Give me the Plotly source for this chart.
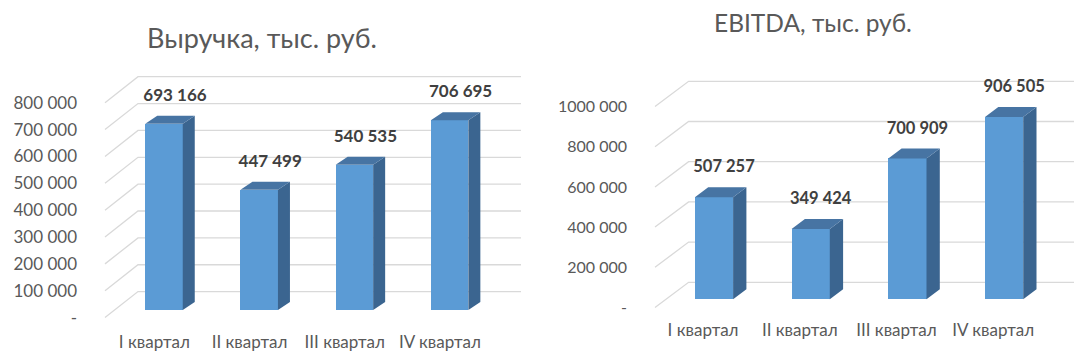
import plotly.graph_objects as go

# ---------------- data ----------------
categories = ["I квартал", "II квартал", "III квартал", "IV квартал"]
revenue = [693166, 447499, 540535, 706695]
ebitda = [507257, 349424, 700909, 906505]

revenue_title = "Выручка, тыс. руб."
ebitda_title = "EBITDA, тыс. руб."

revenue_ticks = [0, 100000, 200000, 300000, 400000, 500000, 600000, 700000, 800000]
revenue_tick_labels = ["-", "100 000", "200 000", "300 000", "400 000",
                       "500 000", "600 000", "700 000", "800 000"]
ebitda_ticks = [0, 200000, 400000, 600000, 800000, 1000000]
ebitda_tick_labels = ["-", "200 000", "400 000", "600 000", "800 000", "1000 000"]

# ---------------- style / layout (pixels in page coordinates) ----------------
OFF = 8                      # default page body margin
W, H = 1084 - OFF, 361 - OFF  # figure size
FONT = "Lato"
FRONT = "#5B9BD5"
TOP = "#4774A3"
SIDE = "#3B6590"
GRID = "#D9D9D9"
AXIS_TXT = "#595959"
LABEL_TXT = "#404040"

left_cfg = dict(xdom=(78, 540), ydom=(55, 330), y0=317.6, ppv=26.86e-5,
                c0=164.0, spacing=95.2, barw=37.5, base_px=7.6,
                side=(12.0, 8.0), wall=(33.0, 26.0), wall_x=105.0, wall_end=521.0,
                lab=(11.0, 27.0), tickfont=17, catfont=17, labfont=17,
                title_xy=(262, 38), title_size=27)
right_cfg = dict(xdom=(628, 1084), ydom=(55, 318), y0=307.5, ppv=20.1e-5,
                 c0=714.0, spacing=96.7, barw=38.2, base_px=8.2,
                 side=(13.3, 10.0), wall=(33.6, 25.2), wall_x=655.0, wall_end=1074.0,
                 lab=(10.0, 29.0), tickfont=16, catfont=17, labfont=16.5,
                 title_xy=(813, 23), title_size=24.5)


def fmt(v):
    return f"{v:,}".replace(",", " ")


def px_x(p):
    return (p - OFF) / W


def px_y(p):
    return 1 - (p - OFF) / H


fig = go.Figure()
shapes = []
annotations = []


def build(values, ticks, tick_labels, title, cfg, idx):
    xa = "x" if idx == 1 else f"x{idx}"
    ya = "y" if idx == 1 else f"y{idx}"
    S = cfg["spacing"]
    ppv = cfg["ppv"]
    wdx_px, wdy_px = cfg["wall"]
    dx0_px = cfg["base_px"] * wdx_px / wdy_px
    cf0 = cfg["c0"] - dx0_px

    def X(px):
        return (px - cf0) / S

    # axes
    xd0, xd1 = cfg["xdom"]
    yd0, yd1 = cfg["ydom"]
    xrange_ = [X(xd0), X(xd1)]
    yrange_ = [(cfg["y0"] - yd1) / ppv, (cfg["y0"] - yd0) / ppv]
    xkey = "xaxis" if idx == 1 else f"xaxis{idx}"
    ykey = "yaxis" if idx == 1 else f"yaxis{idx}"
    fig.update_layout(**{
        xkey: dict(domain=[px_x(xd0), min(1, px_x(xd1))], range=xrange_, anchor=ya,
                   tickvals=list(range(len(categories))), ticktext=categories,
                   showgrid=False, zeroline=False, showline=False, ticks="",
                   tickfont=dict(family=FONT, size=cfg["catfont"], color=AXIS_TXT),
                   fixedrange=True),
        ykey: dict(domain=[px_y(yd1), px_y(yd0)], range=yrange_, anchor=xa,
                   tickvals=ticks, ticktext=tick_labels,
                   showgrid=False, zeroline=False, showline=False, ticks="",
                   tickfont=dict(family=FONT, size=cfg["tickfont"], color=AXIS_TXT),
                   fixedrange=True),
    })

    # walls / gridlines (shapes below traces)
    wdx = wdx_px / S
    wdy = wdy_px / ppv
    xl = X(cfg["wall_x"])
    xe = X(cfg["wall_end"])
    for t in ticks:
        shapes.append(dict(type="path", xref=xa, yref=ya, layer="below",
                           path=f"M {xl},{t} L {xl + wdx},{t + wdy} L {xe},{t + wdy}",
                           line=dict(color=GRID, width=1.3)))

    # bars (front faces)
    n = len(values)
    xs = [i + dx0_px / S for i in range(n)]
    base_v = cfg["base_px"] / ppv
    bw = cfg["barw"] / S
    fig.add_trace(go.Bar(x=xs, y=values, base=[base_v] * n, width=bw,
                         marker=dict(color=FRONT, line=dict(width=0)),
                         xaxis=xa, yaxis=ya, hoverinfo="skip", showlegend=False))

    # side and top faces
    sdx = cfg["side"][0] / S
    sdy = cfg["side"][1] / ppv
    tx, ty, sx, sy = [], [], [], []
    for x, v in zip(xs, values):
        l, r = x - bw / 2, x + bw / 2
        top = base_v + v
        tx += [l, l + sdx, r + sdx, r, l, None]
        ty += [top, top + sdy, top + sdy, top, top, None]
        sx += [r, r + sdx, r + sdx, r, r, None]
        sy += [base_v, base_v + sdy, top + sdy, top, base_v, None]
    fig.add_trace(go.Scatter(x=sx, y=sy, fill="toself", fillcolor=SIDE, mode="lines",
                             line=dict(width=0, color=SIDE), xaxis=xa, yaxis=ya,
                             hoverinfo="skip", showlegend=False))
    fig.add_trace(go.Scatter(x=tx, y=ty, fill="toself", fillcolor=TOP, mode="lines",
                             line=dict(width=0, color=TOP), xaxis=xa, yaxis=ya,
                             hoverinfo="skip", showlegend=False))

    # data labels
    lx = [x + cfg["lab"][0] / S for x in xs]
    ly = [base_v + v + cfg["lab"][1] / ppv for v in values]
    fig.add_trace(go.Scatter(x=lx, y=ly, mode="text", text=[fmt(v) for v in values],
                             textposition="middle center", cliponaxis=False,
                             textfont=dict(family=FONT, size=cfg["labfont"], color=LABEL_TXT,
                                           weight="bold"),
                             xaxis=xa, yaxis=ya, hoverinfo="skip", showlegend=False))

    # title
    tx_, ty_ = cfg["title_xy"]
    annotations.append(dict(text=title, xref="paper", yref="paper",
                            x=px_x(tx_), y=px_y(ty_), xanchor="center", yanchor="middle",
                            showarrow=False,
                            font=dict(family=FONT, size=cfg["title_size"], color=AXIS_TXT)))


build(revenue, revenue_ticks, revenue_tick_labels, revenue_title, left_cfg, 1)
build(ebitda, ebitda_ticks, ebitda_tick_labels, ebitda_title, right_cfg, 2)

fig.update_layout(width=W, height=H, margin=dict(l=0, r=0, t=0, b=0),
                  paper_bgcolor="white", plot_bgcolor="rgba(0,0,0,0)",
                  shapes=shapes, annotations=annotations, bargap=0)

fig.write_html("out.html")
